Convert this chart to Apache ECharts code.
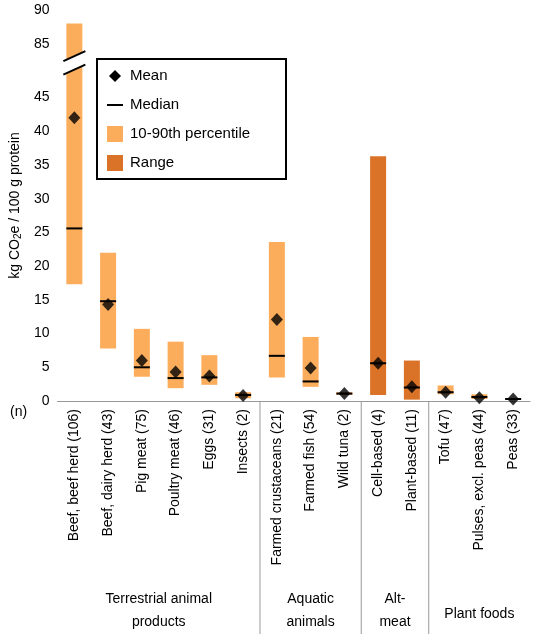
<!DOCTYPE html><html><head><meta charset="utf-8">
<script src="https://cdn.jsdelivr.net/npm/echarts@6/dist/echarts.min.js"></script>
<style>body{margin:0}#c{width:536px;height:634px}</style></head><body><div id="c"></div>
<script>
const categories=["Beef, beef herd (106)","Beef, dairy herd (43)","Pig meat (75)","Poultry meat (46)","Eggs (31)","Insects (2)","Farmed crustaceans (21)","Farmed fish (54)","Wild tuna (2)","Cell-based (4)","Plant-based (11)","Tofu (47)","Pulses, excl. peas (44)","Peas (33)"];
const low=[17.3,7.8,3.6,1.9,2.4,0.4,3.5,2.1,0.9,0.9,0.2,1.0,0.3,0.15];
const high=[88,22,10.7,8.8,6.8,1.3,23.6,9.5,1.3,36.3,6.0,2.3,1.0,0.45];
const isRange=[0,0,0,0,0,0,0,0,0,1,1,0,0,0];
const means=[42,14.3,6,4.3,3.7,0.8,12.1,4.9,1.1,5.6,2.1,1.3,0.5,0.3];
const medians=[25.6,14.8,5,3.4,3.5,0.9,6.7,2.9,1.1,5.6,2.0,1.3,0.6,0.3];
const groups=[{name:"Terrestrial animal\nproducts",from:0,to:5},{name:"Aquatic\nanimals",from:6,to:8},{name:"Alt-\nmeat",from:9,to:10},{name:"Plant foods",from:11,to:13}];
const tickValues=[0,5,10,15,20,25,30,35,40,45,85,90];
const BREAK_SHIFT=32;
const disp=v=>v>45?v-BREAK_SHIFT:v;
const undisp=d=>d>45?d+BREAK_SHIFT:d;
const LIGHT='#FBAD5B',DARK='#DA7328';
const chart=echarts.init(document.getElementById('c'));
const font='Liberation Sans';
chart.setOption({
 animation:false,
 grid:{left:56,right:6,top:10,bottom:233},
 xAxis:{type:'category',data:categories,axisTick:{show:false},axisLine:{lineStyle:{color:'#999'}},
  axisLabel:{rotate:90,fontSize:14,color:'#000',fontFamily:font,interval:0,margin:8}},
 yAxis:{type:'value',min:0,max:58,splitLine:{show:false},axisLine:{show:false},axisTick:{show:false},
  axisLabel:{customValues:tickValues.map(disp),formatter:v=>String(Math.round(undisp(v))),fontSize:14,color:'#000',fontFamily:font},
  name:'{a|kg CO}{s|2}{a|e / 100 g protein}',nameLocation:'middle',nameGap:34,
  nameTextStyle:{rich:{a:{fontSize:14,fontFamily:font,color:'#000'},s:{fontSize:10,fontFamily:font,color:'#000',verticalAlign:'bottom',padding:[6,0,0,0]}}}},
 series:[{type:'custom',data:categories.map((c,i)=>[i,disp(low[i]),disp(high[i]),isRange[i]]),
  renderItem:(p,api)=>{
   const i=api.value(0);const a=api.coord([i,api.value(1)]),b=api.coord([i,api.value(2)]);
   const w=16;const ch=[{type:'rect',shape:{x:a[0]-w/2,y:b[1],width:w,height:a[1]-b[1]},style:{fill:api.value(3)?DARK:LIGHT}}];
   if(api.value(2)>47){const y1=api.coord([i,49])[1],y2=api.coord([i,51])[1];
    ch.push({type:'polygon',shape:{points:[[a[0]-w/2-3,y1+4],[a[0]+w/2+3,y1-6],[a[0]+w/2+3,y2-6],[a[0]-w/2-3,y2+4]]},style:{fill:'#fff'}});
    ch.push({type:'line',shape:{x1:a[0]-w/2-3,y1:y1+4,x2:a[0]+w/2+3,y2:y1-6},style:{stroke:'#000',lineWidth:2}});
    ch.push({type:'line',shape:{x1:a[0]-w/2-3,y1:y2+4,x2:a[0]+w/2+3,y2:y2-6},style:{stroke:'#000',lineWidth:2}});}
   return {type:'group',children:ch};}},
  {type:'custom',data:medians.map((m,i)=>[i,disp(m)]),z:3,renderItem:(p,api)=>{const c=api.coord([api.value(0),api.value(1)]);
   return {type:'line',shape:{x1:c[0]-8,y1:c[1],x2:c[0]+8,y2:c[1]},style:{stroke:'#000',lineWidth:2}};}},
  {type:'scatter',data:means.map((m,i)=>[i,disp(m)]),symbol:'diamond',symbolSize:[12,13],itemStyle:{color:'#000'},z:4}
 ]});
const g=[];const y0=401;
const xs=i=>chart.convertToPixel({xAxisIndex:0},i);
const step=xs(1)-xs(0);
groups.forEach((gr,k)=>{
 const xr=xs(gr.to)+step/2;const xl=xs(gr.from)-step/2;
 if(k<groups.length-1)g.push({type:'line',shape:{x1:xr,y1:y0,x2:xr,y2:634},style:{stroke:'#999',lineWidth:1}});
 g.push({type:'text',x:(xl+xr)/2,y:gr.name.includes('\n')?588:603,style:{text:gr.name,fontSize:14,fontFamily:font,fill:'#000',align:'center',lineHeight:23}});
});
g.push({type:'text',x:10,y:405,style:{text:'(n)',fontSize:14,fontFamily:font,fill:'#000'}});
const lx=97,ly=59;
g.push({type:'rect',shape:{x:lx,y:ly,width:189,height:120},style:{fill:'#fff',stroke:'#000',lineWidth:2}});
const items=['Mean','Median','10-90th percentile','Range'];
items.forEach((t,k)=>{const cy=ly+17+k*29;
 if(k===0)g.push({type:'polygon',shape:{points:[[lx+18,cy-6],[lx+24,cy],[lx+18,cy+6],[lx+12,cy]]},style:{fill:'#000'}});
 if(k===1)g.push({type:'line',shape:{x1:lx+10,y1:cy,x2:lx+26,y2:cy},style:{stroke:'#000',lineWidth:2}});
 if(k>=2)g.push({type:'rect',shape:{x:lx+10,y:cy-8,width:16,height:16},style:{fill:k===2?LIGHT:DARK}});
 g.push({type:'text',x:lx+33,y:cy-8,style:{text:t,fontSize:15,fontFamily:font,fill:'#000'}});
});
chart.setOption({graphic:g});
</script></body></html>
